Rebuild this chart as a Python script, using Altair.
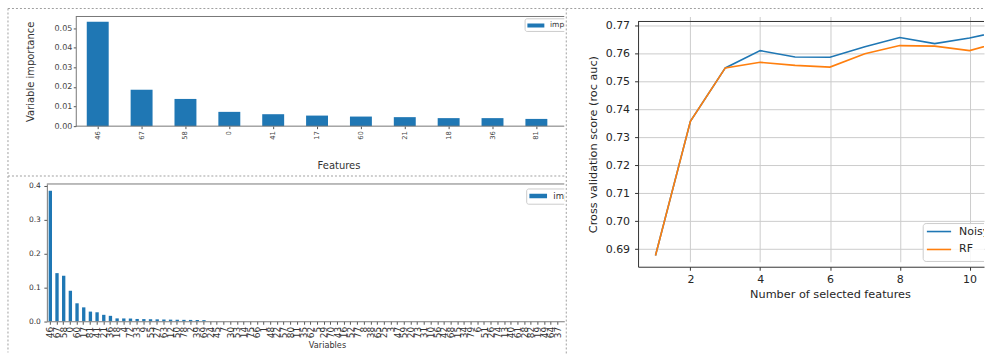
import altair as alt
import pandas as pd

FONT = "DejaVu Sans"
BLUE = "#1f77b4"
ORANGE = "#ff7f0e"
BORDER = "#a0a0a0"

# --- Upper left: importance of the leading features ---
top_features = ["46", "67", "58", "0", "41", "17", "60", "21", "18", "36", "81"]
top_importance = [0.0533, 0.0186, 0.0139, 0.0073, 0.0061, 0.0054,
                  0.0049, 0.0046, 0.0041, 0.0041, 0.0037]

# --- Lower left: importance over all variables ---
all_variables = [
    "46", "67", "58", "0", "60", "17", "81", "41", "21", "36",
    "18", "4", "72", "33", "9", "55", "27", "63", "12", "50",
    "78", "2", "39", "69", "24", "45", "7", "30", "53", "14",
    "75", "66", "1", "48", "22", "57", "80", "11", "35", "62",
    "5", "29", "70", "43", "16", "52", "77", "8", "38", "65",
    "25", "3", "47", "59", "20", "73", "31", "10", "56", "42",
    "68", "15", "34", "79", "6", "51", "26", "74", "13", "40",
    "61", "28", "82", "19", "49", "64", "37",
]
all_importance = [
    0.385, 0.142, 0.134, 0.090, 0.053, 0.041, 0.0285, 0.0265, 0.019, 0.016,
    0.0085, 0.0083, 0.0080, 0.0068, 0.0064, 0.0060, 0.0057, 0.0052, 0.0048, 0.0045,
    0.0042, 0.0040, 0.0037, 0.0033, 0.0, 0.0, 0.0, 0.0, 0.0, 0.0,
    0.0, 0.0, 0.0, 0.0, 0.0, 0.0, 0.0, 0.0, 0.0, 0.0,
    0.0, 0.0, 0.0, 0.0, 0.0, 0.0, 0.0, 0.0, 0.0, 0.0,
    0.0, 0.0, 0.0, 0.0, 0.0, 0.0, 0.0, 0.0, 0.0, 0.0,
    0.0, 0.0, 0.0, 0.0, 0.0, 0.0, 0.0, 0.0, 0.0, 0.0,
    0.0, 0.0, 0.0, 0.0, 0.0, 0.0, 0.0,
]
importance_label = "importance"

# --- Right: cross-validation score vs number of selected features ---
n_selected = [1, 2, 3, 4, 5, 6, 7, 8, 9, 10, 11]
score_noisy = [0.6877, 0.7358, 0.7549, 0.7611, 0.7588, 0.7587,
               0.7625, 0.7658, 0.7636, 0.7656, 0.7684]
score_rf = [0.6877, 0.7358, 0.7549, 0.7569, 0.7558, 0.7552,
            0.7600, 0.7629, 0.7627, 0.7611, 0.7646]
series_names = ["Noisy RF", "RF"]
series_colors = [BLUE, ORANGE]

ONE_ROW = pd.DataFrame({"k": [0]})
DASH = [2, 2]


def hrule(x1, x2, y, color, dash=None, width=1.0):
    kw = dict(color=color, strokeWidth=width)
    if dash:
        kw["strokeDash"] = dash
    return alt.Chart(ONE_ROW).mark_rule(**kw).encode(
        x=alt.value(x1), x2=alt.value(x2), y=alt.value(y))


def vrule(x, y1, y2, color, dash=None, width=1.0):
    kw = dict(color=color, strokeWidth=width)
    if dash:
        kw["strokeDash"] = dash
    return alt.Chart(ONE_ROW).mark_rule(**kw).encode(
        x=alt.value(x), y=alt.value(y1), y2=alt.value(y2))


def box(x1, x2, y1, y2, fill, stroke=None, radius=0):
    kw = dict(fill=fill, clip=True)
    if stroke:
        kw.update(stroke=stroke, strokeWidth=1, fillOpacity=0.85)
    if radius:
        kw["cornerRadius"] = radius
    return alt.Chart(ONE_ROW).mark_rect(**kw).encode(
        x=alt.value(x1), x2=alt.value(x2), y=alt.value(y1), y2=alt.value(y2))


def label(text, x, y, size, color="#333"):
    return alt.Chart(pd.DataFrame({"name": [text]})).mark_text(
        align="left", baseline="middle", font=FONT, fontSize=size,
        color=color, clip=True,
    ).encode(x=alt.value(x), y=alt.value(y), text="name:N")


# Both left panels share a 519 px wide view; the upper one starts its axes 29 px in.
WL = 519
INSET = 29

# ---------------- upper-left panel ----------------
H1 = 110
tl_df = pd.DataFrame({"feature": top_features, "importance": top_importance})
tl_bars = alt.Chart(tl_df).mark_bar(color=BLUE).encode(
    x=alt.X(
        "feature:N", sort=top_features,
        scale=alt.Scale(paddingInner=0.5, paddingOuter=0.648, align=0.702),
        axis=alt.Axis(
            title="Features", labelAngle=270, labelFontSize=6.8, labelColor="#444",
            labelPadding=2, tickSize=2.5, tickColor="#555", domain=False,
            labelOverlap=False, titleFontSize=10, titleFontWeight="normal",
            titleColor="#333", titleX=292.5, titleY=39.3, titleBaseline="middle",
            zindex=1,
        ),
    ),
    y=alt.Y(
        "importance:Q",
        scale=alt.Scale(domain=[0, 0.056], nice=False),
        axis=alt.Axis(
            title="Variable importance", values=[0.0, 0.01, 0.02, 0.03, 0.04, 0.05],
            format=".2f", grid=False, labelFontSize=8, labelColor="#444",
            tickSize=2.5, labelPadding=1.5, tickColor="#555", domainColor="#777",
            offset=-INSET,
            titleFontSize=10, titleFontWeight="normal", titleColor="#333",
            titleX=-45.5, titleY=H1 / 2, titleBaseline="middle", titleAngle=270,
            zindex=1,
        ),
    ),
)
tl = alt.layer(
    tl_bars,
    hrule(INSET, WL, 0, "#777"),
    hrule(INSET, WL, H1, "#777"),
    box(479.7, 560, 2.3, 15, "white", stroke="#cccccc", radius=2),
    box(482, 499, 7, 11, BLUE),
    label(importance_label, 504.7, 9, 7.5),
    hrule(-39, WL, -8, BORDER, DASH),
    vrule(-39, -8, 158, BORDER, DASH),
).properties(width=WL, height=H1)

# ---------------- lower-left panel ----------------
H2 = 137.7
bl_df = pd.DataFrame({"variable": all_variables, "importance": all_importance})
bl_bars = alt.Chart(bl_df).mark_bar(color=BLUE).encode(
    x=alt.X(
        "variable:N", sort=all_variables,
        scale=alt.Scale(paddingInner=0.5, paddingOuter=0.48, align=0.28),
        axis=alt.Axis(
            title="Variables", labelAngle=270, labelFontSize=9, labelColor="#333",
            labelPadding=2, tickSize=3, tickColor="#555", domainColor="#777",
            labelOverlap=False, titleFontSize=8.2, titleFontWeight="normal",
            titleColor="#333", titleX=281, titleY=24.3, titleBaseline="middle",
            zindex=1,
        ),
    ),
    y=alt.Y(
        "importance:Q",
        scale=alt.Scale(domain=[0, 0.405], nice=False),
        axis=alt.Axis(
            title=None, values=[0.0, 0.1, 0.2, 0.3, 0.4], format=".1f", grid=False,
            labelFontSize=7.5, labelColor="#333", tickSize=3, labelPadding=3.5,
            tickColor="#555", domainColor="#777", zindex=1,
        ),
    ),
)
bl = alt.layer(
    bl_bars,
    hrule(0, WL, 0, "#777"),
    box(481.3, 560, 5, 20.3, "white", stroke="#cccccc", radius=2),
    box(484, 501.7, 9.7, 14.3, BLUE),
    label(importance_label, 508, 12, 8.5),
    hrule(-39, WL, -8, BORDER, DASH),
    vrule(-39, -8, 169, BORDER, DASH),
).properties(width=WL, height=H2)

# ---------------- right panel ----------------
# The view shares its top with the upper-left panel; the axes start TOP3 px lower.
W3, H3, TOP3 = 347, 251, 5
r_df = pd.DataFrame({
    "n": n_selected + n_selected,
    "score": score_noisy + score_rf,
    "series": [series_names[0]] * len(n_selected) + [series_names[1]] * len(n_selected),
})
r_lines = alt.Chart(r_df).mark_line(strokeWidth=1.6, clip=True).encode(
    x=alt.X(
        "n:Q",
        scale=alt.Scale(domain=[0.5, 0.5 + W3 / 35.0], nice=False, zero=False),
        axis=alt.Axis(
            title="Number of selected features", values=[2, 4, 6, 8, 10],
            format="d", grid=True, gridColor="#cccccc", gridWidth=1,
            labelFontSize=11, labelColor="#262626", tickSize=3.5, labelPadding=3,
            tickColor="#333", domainColor="#333", titleFontSize=11.3,
            titleFontWeight="normal", titleColor="#262626",
            titleX=192.5, titleY=28.3, titleBaseline="middle",
        ),
    ),
    y=alt.Y(
        "score:Q",
        scale=alt.Scale(domain=[0.68368, 0.771536], nice=False, zero=False,
                        range=[H3, TOP3]),
        axis=alt.Axis(
            title="Cross validation score (roc auc)",
            values=[0.69, 0.70, 0.71, 0.72, 0.73, 0.74, 0.75, 0.76, 0.77],
            format=".2f", grid=True, gridColor="#cccccc", gridWidth=1,
            labelFontSize=11, labelColor="#262626", tickSize=3.5, labelPadding=5,
            tickColor="#333", domainColor="#333", titleFontSize=11.3,
            titleFontWeight="normal", titleColor="#262626",
            titleX=-45, titleY=TOP3 + (H3 - TOP3) / 2, titleBaseline="middle",
            titleAngle=270,
        ),
    ),
    color=alt.Color("series:N", scale=alt.Scale(domain=series_names, range=series_colors),
                    legend=None),
)

r_layers = [
    r_lines,
    hrule(0, W3, TOP3, "#333"),
    box(286, 400, 207.7, 245.7, "white", stroke="#cccccc", radius=3),
]
for i, (name, col) in enumerate(zip(series_names, series_colors)):
    yy = 215.7 + 18 * i
    r_layers.append(hrule(289.7, 314, yy, col, width=1.6))
    r_layers.append(label(name, 322, yy, 11, "#262626"))
r_layers += [
    hrule(-72, W3, -8, BORDER, DASH),
    vrule(-72, -8, 338, BORDER, DASH),
]
right = alt.layer(*r_layers).properties(width=W3, height=H3)

chart = alt.hconcat(
    alt.vconcat(tl, bl, spacing=0),
    right,
    spacing=0,
).properties(
    padding={"left": 7, "top": 7, "right": 0, "bottom": 0},
    background="white",
).configure(
    font=FONT,
).configure_view(
    stroke=None,
)

chart.save("out.html", embed_options={"renderer": "svg", "actions": False})
